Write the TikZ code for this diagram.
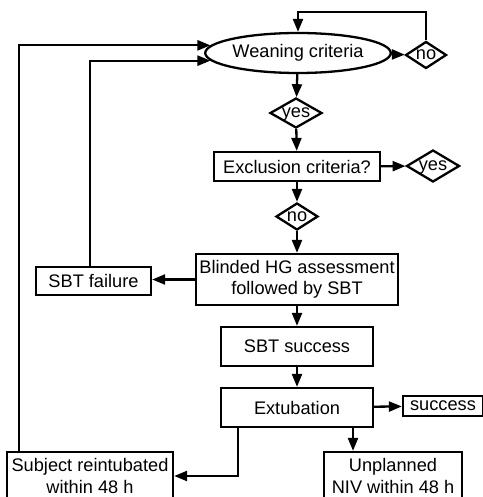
\documentclass[tikz,border=0pt]{standalone}
\usepackage{fontspec}
\setmainfont{Liberation Sans}
\usetikzlibrary{arrows.meta,shapes.geometric}
\tikzset{
  stepbox/.style={draw,rectangle,line width=2.3pt,inner sep=0pt,align=center},
  oval/.style={draw,ellipse,line width=2.3pt,inner sep=0pt},
  choice/.style={draw,diamond,aspect=2,line width=2.3pt,inner sep=0pt,text height=9pt,text depth=0pt},
  arr/.style={line width=2.3pt,-{Triangle[length=13pt,width=10pt]}}
}
\begin{document}
\begin{tikzpicture}[x=1pt,y=-1pt,font=\fontsize{18.2}{21.5}\selectfont]
      \useasboundingbox (0,0) rectangle (482,497);
      \node[oval,minimum width=152,minimum height=40] (wean) at (298,53) {Weaning criteria};
      \node[choice,minimum width=41,minimum height=27] (no1) at (426,55) {no};
      \node[choice,minimum width=52,minimum height=30] (yes1) at (296,113) {yes};
      \node[stepbox,minimum width=166,minimum height=29] (excl) at (297,166.5) {Exclusion criteria?};
      \node[choice,minimum width=53,minimum height=32] (yes2) at (433,166) {yes};
      \node[choice,minimum width=42,minimum height=27] (no2) at (297,216.5) {no};
      \node[stepbox,minimum width=202,minimum height=51] (blind) at (297,279.5) {Blinded HG assessment\\followed by SBT};
      \node[stepbox,minimum width=115,minimum height=28] (fail) at (93.5,281) {SBT failure};
      \node[stepbox,minimum width=152,minimum height=39] (succ) at (297,346.5) {SBT success};
      \node[stepbox,minimum width=152,minimum height=39] (extub) at (297,407.5) {Extubation};
      \node[stepbox,minimum width=80,minimum height=20] (ok) at (443,406) {success};
      \node[stepbox,minimum width=166,minimum height=48] (reint) at (90,476) {Subject reintubated\\within 48 h};
      \node[stepbox,minimum width=138,minimum height=48] (niv) at (393,476) {Unplanned\\NIV within 48 h};
      \begin{scope}[arr]
        \draw (wean) to (no1);
        \draw (no1.north) -- (no1.north |- 0,12) -| (wean.north);
        \draw (wean) to (yes1);
        \draw (yes1) to (excl);
        \draw (excl) to (yes2);
        \draw (excl) to (no2);
        \draw (no2) to (blind);
        \draw (blind.west) to (fail.east |- blind.west);
        \draw ([xshift=-3.5pt]fail.north) |- (wean.185);
        \draw ([xshift=13pt]reint.north west) |- (wean.175);
        \draw (blind) to (succ);
        \draw (succ) to (extub);
        \draw (extub) to (ok);
        \draw ([xshift=-59pt]extub.south) |- (reint.east);
        \draw ([xshift=56pt]extub.south) -- ([xshift=56pt]extub.south |- niv.north);
      \end{scope}
    \end{tikzpicture}
\end{document}
